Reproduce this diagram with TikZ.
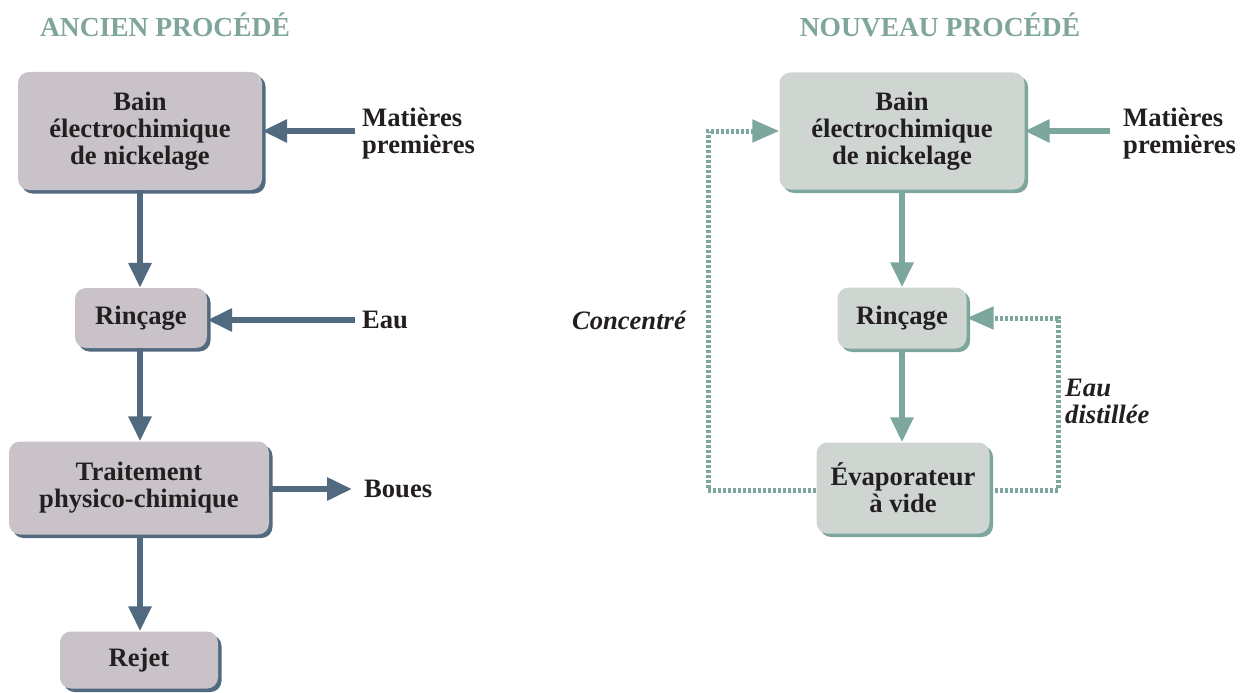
\documentclass[tikz,border=0pt]{standalone}
\usepackage{fontspec}
\setmainfont{Liberation Serif}
\usetikzlibrary{arrows.meta,shadows}
\definecolor{oldfill}{HTML}{C9C2C9}
\definecolor{olddark}{HTML}{516A80}
\definecolor{newfill}{HTML}{CFD6D2}
\definecolor{newdark}{HTML}{7CA69E}
\definecolor{titlecol}{HTML}{7FA59C}
\definecolor{txt}{HTML}{231F20}
\tikzset{
  x=1pt,y=1pt,
  every node/.style={text=txt,font=\fontsize{26.6}{27}\selectfont\bfseries},
  boxbase/.style={rounded corners=11pt,align=center,inner sep=0pt},
  oldbox/.style={boxbase,fill=oldfill,drop shadow={shadow xshift=3.5pt,shadow yshift=-3.5pt,fill=olddark,opacity=1}},
  newbox/.style={boxbase,fill=newfill,drop shadow={shadow xshift=3.5pt,shadow yshift=-3.5pt,fill=newdark,opacity=1}},
  lbl/.style={anchor=west,align=left,inner sep=0pt},
  itl/.style={font=\fontsize{26.6}{27}\selectfont\bfseries\itshape},
  ttl/.style={text=titlecol,font=\fontsize{27.5}{28}\selectfont\bfseries},
  oldarrow/.style={draw=olddark,line width=6pt,-{Triangle[length=25pt,width=22pt]}},
  newarrow/.style={draw=newdark,line width=6pt,-{Triangle[length=25pt,width=22pt]}},
  dotarrow/.style={draw=newdark,line width=5pt,dash pattern=on 3pt off 2pt,-{Triangle[length=27pt,width=22pt]}},
}
\begin{document}
\begin{tikzpicture}
\useasboundingbox (0,0) rectangle (1245,-693);
% titles
\node[ttl] (t1) at (165,-25) {ANCIEN PROCÉDÉ};
\node[ttl] (t2) at (940,-25) {NOUVEAU PROCÉDÉ};
% left column
\node[oldbox,minimum width=244pt,minimum height=118pt] (bainL) at (140,-131) {Bain\\électrochimique\\de nickelage};
\node[oldbox,minimum width=132pt,minimum height=60pt] (rincL) at (141,-318) {Rinçage};
\node[oldbox,minimum width=260pt,minimum height=93pt] (traitL) at (139,-488) {Traitement\\physico-chimique};
\node[oldbox,minimum width=158pt,minimum height=57pt] (rejetL) at (139,-660) {Rejet};
\node[lbl] (matL) at (362,-134) {Matières\\premières};
\node[lbl] (eauL) at (362,-320) {Eau};
\node[lbl] (bouesL) at (364,-489) {Boues};
\coordinate (xl) at (140,0);
\coordinate (ma) at (355,-131);
\coordinate (ea) at (355,-320);
\coordinate (bo) at (352,-489);
\draw[oldarrow] (xl |- bainL.south) -- (xl |- rincL.north);
\draw[oldarrow] (xl |- rincL.south) -- (xl |- traitL.north);
\draw[oldarrow] (xl |- traitL.south) -- (xl |- rejetL.north);
\draw[oldarrow] (ma) -- (ma -| bainL.east);
\draw[oldarrow] (ea) -- (ea -| rincL.east);
\draw[oldarrow] (bo -| traitL.east) -- (bo);
% right column
\node[newbox,minimum width=245pt,minimum height=117pt] (bainR) at (902,-131) {Bain\\électrochimique\\de nickelage};
\node[newbox,minimum width=129pt,minimum height=61pt] (rincR) at (902,-318) {Rinçage};
\node[newbox,minimum width=173pt,minimum height=91pt] (evapR) at (903,-488) {Évaporateur\\à vide};
\node[lbl] (matR) at (1123,-134) {Matières\\premières};
\node[lbl,anchor=east,itl] (conc) at (686,-320) {Concentré};
\node[lbl,itl] (dist) at (1065,-401) {Eau\\distillée};
\coordinate (xr) at (902,0);
\coordinate (mr) at (1110,-131);
\draw[newarrow] (xr |- bainR.south) -- (xr |- rincR.north);
\draw[newarrow] (xr |- rincR.south) -- (xr |- evapR.north);
\draw[newarrow] (mr) -- (mr -| bainR.east);
\coordinate (c1) at (708,-490);
\coordinate (c2) at (1058,-490);
\draw[dotarrow] (c1 -| evapR.west) -- (c1) |- (bainR.west);
\draw[dotarrow] (c2 -| evapR.east) -- (c2) |- (rincR.east);
\end{tikzpicture}
\end{document}
